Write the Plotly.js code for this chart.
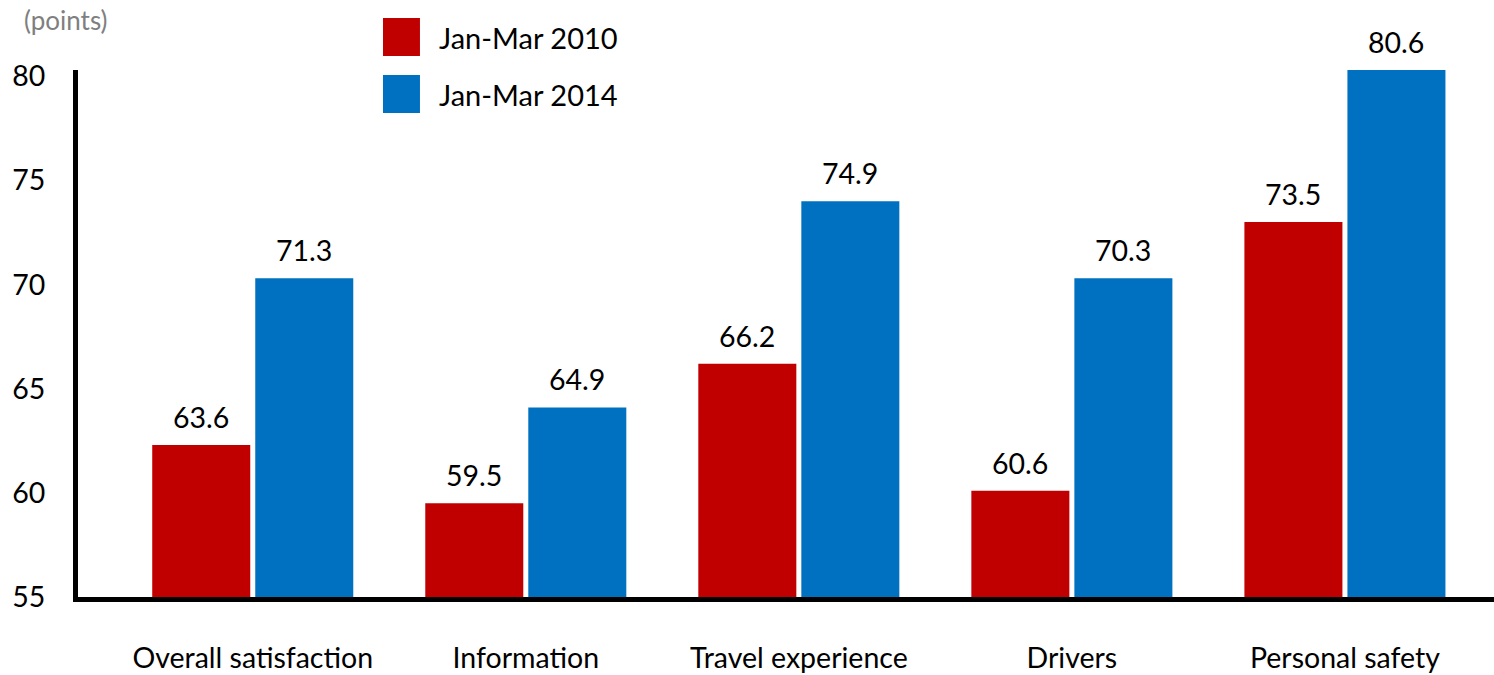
<!DOCTYPE html>
<html>
<head>
<meta charset="utf-8">
<script src="https://cdn.plot.ly/plotly-3.0.1.min.js"></script>
<style>html,body{margin:0;padding:0;background:#fff;}#chart{width:1494px;height:675px;}</style>
</head>
<body>
<div id="chart"></div>
<script>
// ---- data ----
const categories = ["Overall satisfaction", "Information", "Travel experience", "Drivers", "Personal safety"];
const seriesNames = ["Jan-Mar 2010", "Jan-Mar 2014"];
// bar heights as drawn in the picture
const values2010 = [62.3, 59.5, 66.2, 60.1, 73.0];
const values2014 = [70.3, 64.1, 74.0, 70.3, 80.3];
// value labels as printed above the bars
const labels2010 = ["63.6", "59.5", "66.2", "60.6", "73.5"];
const labels2014 = ["71.3", "64.9", "74.9", "70.3", "80.6"];
const yTicks = [55, 60, 65, 70, 75, 80];

// ---- styles ----
const RED = "#c00000", BLUE = "#0070c0";
const FONT = "Lato, 'Open Sans', sans-serif";
const FS = 28.5;

const traces = [
  {type: "bar", name: seriesNames[0], x: categories, y: values2010, marker: {color: RED}, hoverinfo: "skip"},
  {type: "bar", name: seriesNames[1], x: categories, y: values2014, marker: {color: BLUE}, hoverinfo: "skip"}
];

const slotShift = 51.5;
const annotations = [];
categories.forEach((c, i) => {
  annotations.push({x: c, y: values2010[i], xref: "x", yref: "y", text: labels2010[i], showarrow: false,
    xshift: -slotShift, yanchor: "bottom", yshift: 9, font: {family: FONT, size: FS, color: "#000"}});
  annotations.push({x: c, y: values2014[i], xref: "x", yref: "y", text: labels2014[i], showarrow: false,
    xshift: slotShift, yanchor: "bottom", yshift: 9, font: {family: FONT, size: FS, color: "#000"}});
});
// unit note
annotations.push({x: -0.0395, y: 1.095, xref: "paper", yref: "paper", xanchor: "left", yanchor: "middle",
  text: "(points)", showarrow: false, font: {family: FONT, size: 26, color: "#7f7f7f"}});
// legend texts
annotations.push({x: 0.2535, y: 1.0626, xref: "paper", yref: "paper", xanchor: "left", yanchor: "middle",
  text: seriesNames[0], showarrow: false, font: {family: FONT, size: 29, color: "#000"}});
annotations.push({x: 0.2535, y: 0.9526, xref: "paper", yref: "paper", xanchor: "left", yanchor: "middle",
  text: seriesNames[1], showarrow: false, font: {family: FONT, size: 29, color: "#000"}});

const shapes = [
  {type: "rect", xref: "paper", yref: "paper", x0: 0.2154, x1: 0.2415, y0: 1.0266, y1: 1.0987, fillcolor: RED, line: {width: 0}},
  {type: "rect", xref: "paper", yref: "paper", x0: 0.2154, x1: 0.2415, y0: 0.9184, y1: 0.9905, fillcolor: BLUE, line: {width: 0}}
];

const layout = {
  width: 1494, height: 675,
  margin: {l: 78, r: 0, t: 70, b: 78, pad: 0},
  paper_bgcolor: "#fff", plot_bgcolor: "#fff",
  showlegend: false,
  barmode: "group",
  bargap: 0.2454,
  bargroupgap: 0.0485,
  font: {family: FONT, size: FS, color: "#000"},
  xaxis: {
    type: "category", range: [-0.64, 4.546], showgrid: false, zeroline: false,
    showline: true, linecolor: "#000", linewidth: 5, ticks: "",
    ticklabelstandoff: 32, tickfont: {family: FONT, size: FS, color: "#000"}, fixedrange: true
  },
  yaxis: {
    range: [55, 80.3], tickvals: yTicks, showgrid: false, zeroline: false,
    showline: true, linecolor: "#000", linewidth: 5, ticks: "",
    ticklabelstandoff: 22, tickfont: {family: FONT, size: FS, color: "#000"}, fixedrange: true
  },
  annotations: annotations,
  shapes: shapes
};

Plotly.newPlot("chart", traces, layout, {displayModeBar: false, staticPlot: true});
</script>
</body>
</html>
